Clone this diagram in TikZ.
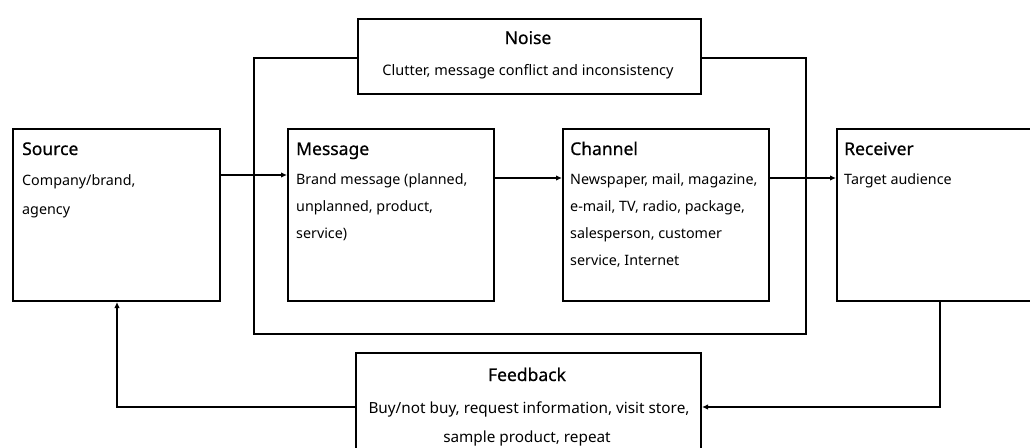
\documentclass[tikz,border=0pt]{standalone}
\usepackage{fontspec}
\setmainfont{Noto Sans}
\newfontfamily\headfont{Noto Sans}[FakeBold=0.6]
\usetikzlibrary{arrows.meta,calc}

\tikzset{
  box/.style={draw=black, line width=2pt, fill=white, anchor=north west, inner sep=0pt},
  title/.style={anchor=base west, inner sep=0pt, font=\headfont\fontsize{17.5}{19}\selectfont},
  body/.style={anchor=base west, inner sep=0pt, font=\fontsize{14.3}{16}\selectfont},
  ctitle/.style={anchor=base, inner sep=0pt, font=\headfont\fontsize{17.5}{19}\selectfont},
  cbody/.style={anchor=base, inner sep=0pt, font=\fontsize{14.5}{16}\selectfont},
  arr/.style={line width=1.8pt, -{Latex[length=6pt,width=5.5pt]}},
}

\begin{document}
\begin{tikzpicture}[x=1pt,y=-1pt]
  \useasboundingbox (0,0) rectangle (1030,447);
  \clip (0,0) rectangle (1030,447);

  % frame enclosing the message and channel stages
  \node[box, fill=none, minimum width=552pt, minimum height=276pt] (frame) at (253,57) {};

  % stage boxes
  \node[box, minimum width=207pt, minimum height=172pt] (src) at (12,128) {};
  \node[box, minimum width=206pt, minimum height=172pt] (msg) at (287,128) {};
  \node[box, minimum width=206pt, minimum height=172pt] (chn) at (562,128) {};
  \node[box, minimum width=210pt, minimum height=172pt] (rcv) at (836,128) {};

  % noise and feedback boxes
  \node[box, minimum width=343pt, minimum height=75pt] (noise) at (357,18) {};
  \node[box, minimum width=345pt, minimum height=108pt] (fb) at (355,352) {};

  % texts
  \node[title] (srcT) at (22,155) {Source};
  \node[body] (srcA) at (22,185) {Company/brand,};
  \node[body] (srcB) at (22,214) {agency};

  \node[title] (msgT) at (296,155) {Message};
  \node[body] (msgA) at (296,184) {Brand message (planned,};
  \node[body] (msgB) at (296,211) {unplanned, product,};
  \node[body] (msgC) at (296,238) {service)};

  \node[title] (chnT) at (570,155) {Channel};
  \node[body] (chnA) at (570,184) {Newspaper, mail, magazine,};
  \node[body] (chnB) at (570,211) {e-mail, TV, radio, package,};
  \node[body] (chnC) at (570,238) {salesperson, customer};
  \node[body] (chnD) at (570,265) {service, Internet};

  \node[title] (rcvT) at (844,155) {Receiver};
  \node[body] (rcvA) at (844,184) {Target audience};

  \node[ctitle] (noiseT) at (528,44) {Noise};
  \node[cbody] (noiseA) at (528,75) {Clutter, message conflict and inconsistency};

  \node[ctitle] (fbT) at (527,381) {Feedback};
  \node[cbody, font=\fontsize{15.3}{17}\selectfont] (fbA) at (529,413) {Buy/not buy, request information, visit store,};
  \node[cbody, font=\fontsize{15.3}{17}\selectfont] (fbB) at (527,442) {sample product, repeat};

  % connectors
  \draw[arr] ([yshift=-47pt]src.north east) -- ([yshift=-47pt]msg.north west);
  \draw[arr] ([yshift=-50pt]msg.north east) -- ([yshift=-50pt]chn.north west);
  \draw[arr] ([yshift=-50pt]chn.north east) -- ([yshift=-50pt]rcv.north west);
  \draw[arr] ([xshift=104pt]rcv.south west) |- (fb.east);
  \draw[arr] (fb.west) -| ([xshift=105pt]src.south west);
\end{tikzpicture}
\end{document}
